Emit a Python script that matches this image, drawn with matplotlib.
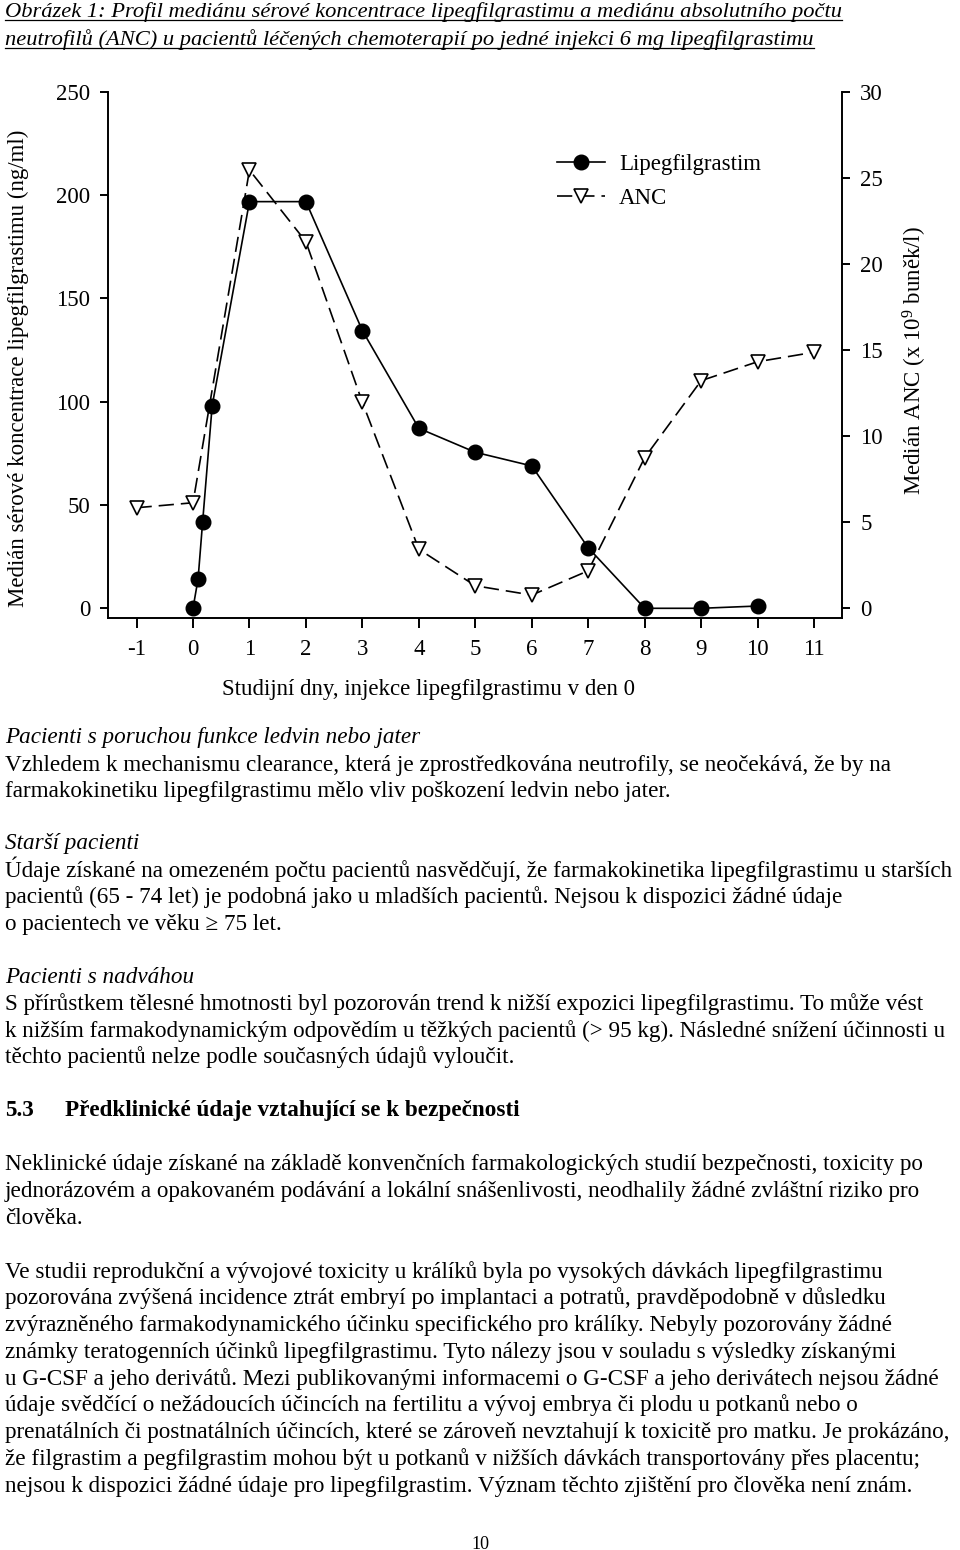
import matplotlib
matplotlib.use('Agg')
import matplotlib.pyplot as plt
from matplotlib.lines import Line2D

plt.rcParams['font.family'] = ['Liberation Serif', 'DejaVu Serif']
plt.rcParams['mathtext.fontset'] = 'custom'
plt.rcParams['mathtext.rm'] = 'Liberation Serif'
plt.rcParams['mathtext.it'] = 'Liberation Serif:italic'
plt.rcParams['lines.scale_dashes'] = False

# ---- data ----
days_lipeg = [0, 0.09, 0.17, 0.34, 1, 2, 3, 4, 5, 6, 7, 8, 9, 10]
lipeg = [0, 14.2, 41.6, 98.1, 196.8, 196.8, 134.4, 87.1, 75.5, 68.9, 29.3, 0, 0, 1.1]
days_anc = [-1, 0, 1, 2, 3, 4, 5, 6, 7, 8, 9, 10, 11]
anc = [5.84, 6.13, 25.45, 21.29, 11.96, 3.43, 1.31, 0.77, 2.18, 8.75, 13.22, 14.32, 14.87]
xticks = list(range(-1, 12))
left_ticks = [0, 50, 100, 150, 200, 250]
right_ticks = [0, 5, 10, 15, 20, 25, 30]

series_names = ['Lipegfilgrastim', 'ANC']
xlabel = 'Studijní dny, injekce lipegfilgrastimu v den 0'
ylabel_left = 'Medián sérové koncentrace lipegfilgrastimu (ng/ml)'
ylabel_right = 'Medián ANC (x 10$^{9}$ buněk/l)'

title_lines = [
    'Obrázek 1: Profil mediánu sérové koncentrace lipegfilgrastimu a mediánu absolutního počtu',
    'neutrofilů (ANC) u pacientů léčených chemoterapií po jedné injekci 6 mg lipegfilgrastimu',
]

body = [
    ('Pacienti s poruchou funkce ledvin nebo jater', 737, 'italic'),
    ('Vzhledem k mechanismu clearance, která je zprostředkována neutrofily, se neočekává, že by na', 765, 'normal'),
    ('farmakokinetiku lipegfilgrastimu mělo vliv poškození ledvin nebo jater.', 791, 'normal'),
    ('Starší pacienti', 843, 'italic'),
    ('Údaje získané na omezeném počtu pacientů nasvědčují, že farmakokinetika lipegfilgrastimu u starších', 871, 'normal'),
    ('pacientů (65 - 74 let) je podobná jako u mladších pacientů. Nejsou k dispozici žádné údaje', 897, 'normal'),
    ('o pacientech ve věku ≥ 75 let.', 924, 'normal'),
    ('Pacienti s nadváhou', 977, 'italic'),
    ('S přírůstkem tělesné hmotnosti byl pozorován trend k nižší expozici lipegfilgrastimu. To může vést', 1004, 'normal'),
    ('k nižším farmakodynamickým odpovědím u těžkých pacientů (> 95 kg). Následné snížení účinnosti u', 1031, 'normal'),
    ('těchto pacientů nelze podle současných údajů vyloučit.', 1057, 'normal'),
    ('Neklinické údaje získané na základě konvenčních farmakologických studií bezpečnosti, toxicity po', 1164, 'normal'),
    ('jednorázovém a opakovaném podávání a lokální snášenlivosti, neodhalily žádné zvláštní riziko pro', 1191, 'normal'),
    ('člověka.', 1218, 'normal'),
    ('Ve studii reprodukční a vývojové toxicity u králíků byla po vysokých dávkách lipegfilgrastimu', 1272, 'normal'),
    ('pozorována zvýšená incidence ztrát embryí po implantaci a potratů, pravděpodobně v důsledku', 1298, 'normal'),
    ('zvýrazněného farmakodynamického účinku specifického pro králíky. Nebyly pozorovány žádné', 1325, 'normal'),
    ('známky teratogenních účinků lipegfilgrastimu. Tyto nálezy jsou v souladu s výsledky získanými', 1352, 'normal'),
    ('u G-CSF a jeho derivátů. Mezi publikovanými informacemi o G-CSF a jeho derivátech nejsou žádné', 1379, 'normal'),
    ('údaje svědčící o nežádoucích účincích na fertilitu a vývoj embrya či plodu u potkanů nebo o', 1405, 'normal'),
    ('prenatálních či postnatálních účincích, které se zároveň nevztahují k toxicitě pro matku. Je prokázáno,', 1432, 'normal'),
    ('že filgrastim a pegfilgrastim mohou být u potkanů v nižších dávkách transportovány přes placentu;', 1459, 'normal'),
    ('nejsou k dispozici žádné údaje pro lipegfilgrastim. Význam těchto zjištění pro člověka není znám.', 1486, 'normal'),
]
heading_num = '5.3'
heading_text = 'Předklinické údaje vztahující se k bezpečnosti'
page_number = '10'

# ---- figure ----
W, H = 960, 1550
fig = plt.figure(figsize=(W / 100, H / 100), dpi=100)

def fy(y):
    return 1 - y / H

ax_left, ax_right, ax_top, ax_bottom = 108.3, 842.3, 91.7, 618.3
ax = fig.add_axes([ax_left / W, fy(ax_bottom), (ax_right - ax_left) / W, (ax_bottom - ax_top) / H])
ax2 = ax.twinx()

chart_fs = 16.5
lw = 1.2
l1, = ax.plot(days_lipeg, lipeg, color='black', lw=lw, marker='o', markersize=10.5,
              markerfacecolor='black', markeredgecolor='black', zorder=3)
l2, = ax2.plot(days_anc, anc, color='black', lw=lw, linestyle=(0, (11, 5)), marker='v',
               markersize=10.5, markerfacecolor='white', markeredgecolor='black',
               markeredgewidth=1.2, zorder=3)

ax.set_xlim(-1.5, 11.5)
ax.set_ylim(-4.84, 250)
ax2.set_ylim(-0.58, 30)
ax.set_xticks(xticks)
ax.set_xticklabels([str(t) for t in xticks])
ax.set_yticks(left_ticks)
ax2.set_yticks(right_ticks)

for a in (ax, ax2):
    a.spines['top'].set_visible(False)
    for s in a.spines.values():
        s.set_linewidth(1.4)
    a.patch.set_visible(False)
ax2.spines['left'].set_visible(False)
ax2.spines['bottom'].set_visible(False)
ax.spines['right'].set_visible(False)

ax.tick_params(axis='x', direction='out', length=7, width=1.4, pad=8, labelsize=chart_fs)
ax.tick_params(axis='y', direction='out', length=6, width=1.4, pad=7, labelsize=chart_fs)
ax2.tick_params(axis='y', direction='out', length=6, width=1.4, pad=7, labelsize=chart_fs)

ax.set_xlabel(xlabel, fontsize=chart_fs)
ax.xaxis.set_label_coords((429 - ax_left) / (ax_right - ax_left), -(690 - ax_bottom) / (ax_bottom - ax_top))
ax.xaxis.label.set_va('center')
ax.set_ylabel(ylabel_left, fontsize=chart_fs)
ax.yaxis.set_label_coords(-(ax_left - 18) / (ax_right - ax_left), (ax_bottom - 368) / (ax_bottom - ax_top))
ax.yaxis.label.set_va('center')
ax2.set_ylabel(ylabel_right, fontsize=chart_fs)
ax2.yaxis.set_label_coords((915 - ax_left) / (ax_right - ax_left), (ax_bottom - 361) / (ax_bottom - ax_top))
ax2.yaxis.label.set_va('center')
ax2.yaxis.label.set_rotation(90)

leg = ax2.legend([l1, l2], series_names, loc='upper left',
                 bbox_to_anchor=(557 / W, fy(154)), bbox_transform=fig.transFigure,
                 frameon=False, fontsize=chart_fs, handlelength=2.1, handletextpad=0.6,
                 labelspacing=0.58, borderpad=0, borderaxespad=0, numpoints=1)

# ---- page text ----
title_fs = 16.2
body_fs = 16.7
title_texts = []
for s, yb in zip(title_lines, [17, 45]):
    t = fig.text(5 / W, fy(yb), s, fontsize=title_fs, style='italic', va='baseline', ha='left')
    title_texts.append((t, yb))

for s, yc, st in body:
    fig.text(5 / W, fy(yc + 6), s, fontsize=body_fs, style=st, va='baseline', ha='left')

fig.text(5 / W, fy(1116), heading_num, fontsize=body_fs, weight='bold', va='baseline', ha='left')
fig.text(65 / W, fy(1116), heading_text, fontsize=body_fs, weight='bold', va='baseline', ha='left')
fig.text(480 / W, fy(1549), page_number, fontsize=13, va='baseline', ha='center')

# underline title lines
fig.canvas.draw()
r = fig.canvas.get_renderer()
for t, yb in title_texts:
    bb = t.get_window_extent(renderer=r)
    yline = fy(yb + 3)
    fig.add_artist(Line2D([bb.x0 / W, bb.x1 / W], [yline, yline], transform=fig.transFigure,
                          color='black', lw=0.9))

fig.savefig('out.png', dpi=100)
